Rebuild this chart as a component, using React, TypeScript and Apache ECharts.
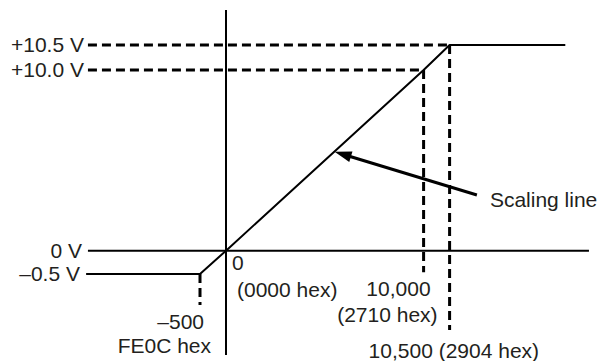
import React, { useEffect, useRef } from "react";
import * as echarts from "echarts";

// Schematic diagram (not to scale): positions are in diagram units.
// X: input data values (counts) and their schematic positions
const xValueLabels = ["–500", "0", "10,000", "10,500"];
const xHexLabels = ["FE0C hex", "(0000 hex)", "(2710 hex)", "(2904 hex)"];
const xPos = [-1, 0, 7.6, 8.6];
// Y: output voltages and their schematic positions
const yTickLabels = ["–0.5 V", "0 V", "+10.0 V", "+10.5 V"];
const yPos = [-0.93, 0, 7.23, 8.23];
// Extents of the schematic axes and line
const xAxisExtent = [-5.31, 13.96];
const yAxisExtent = [-4.17, 9.63];
const lowLineStart = -5.38;
const highLineEnd = 13.05;
const dashStart = -5.31;
const dashBottoms = [-2.17, -0.86, -3.17]; // for -500, 10,000, 10,500
const arrowFrom = [4.49, 3.86];
const arrowTo = [9.65, 2.23];

const FONT = "'Liberation Sans', Arial, Helvetica, sans-serif";
const TXT = "#231f20";

export default function App() {
  const ref = useRef<HTMLDivElement>(null);
  useEffect(() => {
    if (!ref.current) return;
    const chart = echarts.init(ref.current, null, { renderer: "svg" });
    const solid = (data: number[][], width = 2) => ({
      type: "line",
      data,
      showSymbol: false,
      symbol: "none",
      silent: true,
      lineStyle: { color: "#000", width, type: "solid" },
      z: 3,
    });
    const dashed = (data: number[][]) => ({
      type: "line",
      data,
      showSymbol: false,
      symbol: "none",
      silent: true,
      lineStyle: { color: "#000", width: 3, type: [9, 5], cap: "butt" },
      z: 2,
    });
    const scaling = [
      [lowLineStart, yPos[0]],
      [xPos[0], yPos[0]],
      [xPos[1], yPos[1]],
      [xPos[2], yPos[2]],
      [xPos[3], yPos[3]],
      [highLineEnd, yPos[3]],
    ];
    const option: any = {
      animation: false,
      grid: { left: 70, width: 520, top: 0.7, height: 360 },
      xAxis: { type: "value", min: -6, max: 14, show: false },
      yAxis: { type: "value", min: -4.4, max: 10, show: false },
      series: [
        solid([[0, yAxisExtent[1]], [0, yAxisExtent[0]]]),
        solid([[xAxisExtent[0], 0], [xAxisExtent[1], 0]]),
        {
          ...solid(scaling),
          markLine: {
            silent: true,
            symbol: ["triangle", "none"],
            symbolSize: [11, 17],
            label: { show: false },
            lineStyle: { color: "#000", width: 3, type: "solid" },
            data: [[{ coord: arrowFrom }, { coord: arrowTo }]],
          },
        },
        dashed([[dashStart, yPos[3]], [xPos[3], yPos[3]]]),
        dashed([[dashStart, yPos[2]], [xPos[2], yPos[2]]]),
        dashed([[xPos[0], yPos[0]], [xPos[0], dashBottoms[0]]]),
        dashed([[xPos[2], yPos[2]], [xPos[2], dashBottoms[1]]]),
        dashed([[xPos[3], yPos[3]], [xPos[3], dashBottoms[2]]]),
      ],
    };
    chart.setOption(option);

    const px = (x: number, y: number) =>
      chart.convertToPixel({ gridIndex: 0 }, [x, y]) as number[];
    const txt = (text: string, x: number, y: number, align: string) => ({
      type: "text",
      x,
      y,
      silent: true,
      style: {
        text,
        fill: TXT,
        fontSize: 21,
        fontFamily: FONT,
        textAlign: align,
        textVerticalAlign: "middle",
      },
    });
    const leftEdge = px(dashStart, 0)[0];
    const graphics: any[] = [];
    // Y tick labels
    graphics.push(txt(yTickLabels[3], leftEdge - 4, px(0, yPos[3])[1], "right"));
    graphics.push(txt(yTickLabels[2], leftEdge - 4, px(0, yPos[2])[1], "right"));
    graphics.push(txt(yTickLabels[1], leftEdge - 6, px(0, yPos[1])[1], "right"));
    graphics.push(txt(yTickLabels[0], leftEdge - 8, px(0, yPos[0])[1], "right"));
    // X labels
    const p0 = px(xPos[1], 0);
    graphics.push(txt(xValueLabels[1], p0[0] + 6, p0[1] + 12, "left"));
    graphics.push(txt(xHexLabels[1], p0[0] + 11, p0[1] + 39, "left"));
    const pm = px(xPos[0], 0);
    graphics.push(txt(xValueLabels[0], pm[0] + 4, p0[1] + 71, "right"));
    graphics.push(txt(xHexLabels[0], pm[0] + 11, p0[1] + 95, "right"));
    const p1 = px(xPos[2], 0);
    graphics.push(txt(xValueLabels[2], p1[0] + 7, p0[1] + 38, "right"));
    graphics.push(txt(xHexLabels[2], p1[0] + 14, p0[1] + 64, "right"));
    const p2 = px(xPos[3], 0);
    graphics.push(
      txt(xValueLabels[3] + " " + xHexLabels[3], p2[0] - 81, p0[1] + 100, "left")
    );
    const pa = px(arrowTo[0], arrowTo[1]);
    graphics.push(txt("Scaling line", pa[0] + 13, pa[1] + 5, "left"));
    chart.setOption({ graphic: graphics });

    return () => chart.dispose();
  }, []);
  return (
    <div
      ref={ref}
      style={{ position: "absolute", left: 0, top: 0, width: 600, height: 361 }}
    />
  );
}
